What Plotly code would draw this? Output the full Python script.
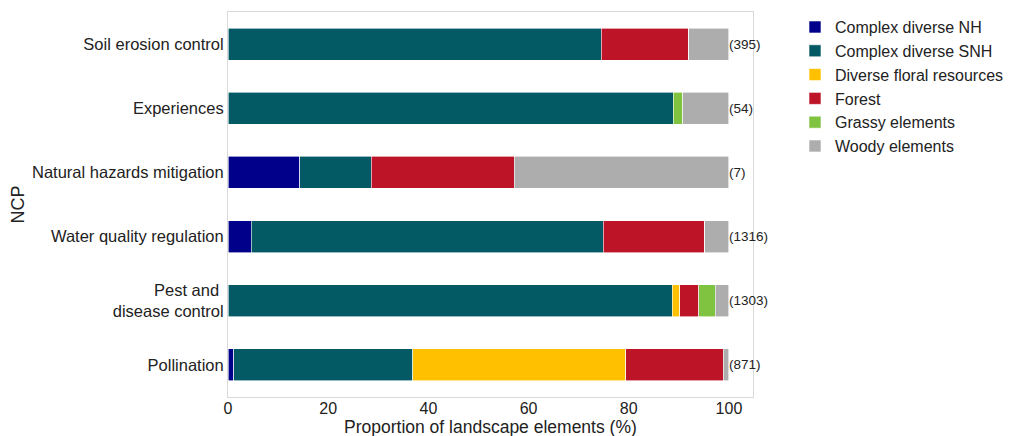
import plotly.graph_objects as go

categories = ["Pollination", "Pest and <br>disease control", "Water quality regulation",
              "Natural hazards mitigation", "Experiences", "Soil erosion control"]
counts = ["(871)", "(1303)", "(1316)", "(7)", "(54)", "(395)"]

series_names = ["Complex diverse NH", "Complex diverse SNH", "Diverse floral resources",
                "Forest", "Grassy elements", "Woody elements"]
complex_nh = [1.1, 0.0, 4.6, 14.3, 0.0, 0.0]
complex_snh = [35.8, 88.7, 70.3, 14.3, 88.9, 74.5]
floral = [42.5, 1.5, 0.0, 0.0, 0.0, 0.0]
forest = [19.5, 3.8, 20.3, 28.5, 0.0, 17.5]
grassy = [0.0, 3.3, 0.0, 0.0, 1.85, 0.0]
woody = [1.1, 2.7, 4.8, 42.9, 9.25, 8.0]

colors = ["#00008B", "#035A64", "#FFC000", "#BE1428", "#80C340", "#ADADAD"]
values = [complex_nh, complex_snh, floral, forest, grassy, woody]

fig = go.Figure()
for name, vals, col in zip(series_names, values, colors):
    fig.add_trace(go.Bar(
        y=categories, x=vals, name=name, orientation="h",
        marker=dict(color=col, line=dict(color="white", width=0.6)),
        width=0.5,
    ))

for cat, txt in zip(categories, counts):
    fig.add_annotation(x=100, y=cat, text=txt, showarrow=False, xanchor="left",
                       xshift=-2, font=dict(size=13.5, color="#222222"))

# x-axis title as annotation for precise placement
fig.add_annotation(x=0.5, y=-0.078, xref="paper", yref="paper",
                   text="Proportion of landscape elements (%)", showarrow=False,
                   xanchor="center", yanchor="middle", font=dict(size=17.5, color="#222222"))

fig.update_layout(
    barmode="stack",
    width=1006, height=428,
    margin=dict(l=220, r=261, t=4, b=39, autoexpand=False),
    paper_bgcolor="white", plot_bgcolor="white",
    font=dict(family="Liberation Sans, Arial, sans-serif", size=16, color="#222222"),
    legend=dict(x=1.08, y=1.005, xanchor="left", yanchor="top",
                font=dict(size=16), traceorder="normal",
                itemwidth=30),
    xaxis=dict(range=[0, 104.8], tickvals=[0, 20, 40, 60, 80, 100],
               showgrid=False, zeroline=False, showline=True, mirror=True,
               linecolor="#D9D9D9", linewidth=1, ticks="",
               ticklabelstandoff=-3,
               tickfont=dict(size=16)),
    yaxis=dict(categoryorder="array", categoryarray=categories,
               showgrid=False, zeroline=False, showline=True, mirror=True,
               linecolor="#D9D9D9", linewidth=1, ticks="",
               title=dict(text="NCP", font=dict(size=18), standoff=4),
               tickfont=dict(size=16.5)),
)

fig.write_html("out.html")
